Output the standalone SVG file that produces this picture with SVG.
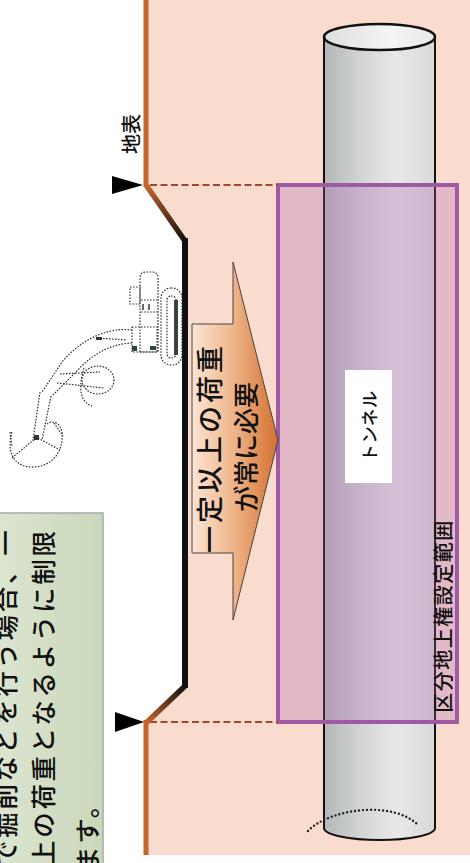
<svg xmlns="http://www.w3.org/2000/svg" width="470" height="863" viewBox="0 0 470 863">
  <style>
    .jp { font-family: "Noto Sans CJK JP", "Noto Sans", sans-serif; fill: #111; font-weight: 500; }
    .dot { fill: none; stroke: #333; stroke-width: 1.2; stroke-dasharray: 1.6 1.4; }
    .guide { fill: none; stroke: #9c4a2a; stroke-width: 2; stroke-dasharray: 7 3.5; }
  </style>
  <defs>
    <linearGradient id="tubeGrad" x1="0" y1="0" x2="1" y2="0">
      <stop offset="0" stop-color="#b4b6b8"/>
      <stop offset="0.35" stop-color="#d4d5d6"/>
      <stop offset="0.65" stop-color="#e8e8e8"/>
      <stop offset="1" stop-color="#d9d9d9"/>
    </linearGradient>
    <linearGradient id="capGrad" x1="0" y1="0" x2="1" y2="0">
      <stop offset="0" stop-color="#dedede"/>
      <stop offset="0.6" stop-color="#f4f4f4"/>
      <stop offset="1" stop-color="#e8e8e8"/>
    </linearGradient>
    <linearGradient id="arrowGrad" x1="192" y1="0" x2="278" y2="0" gradientUnits="userSpaceOnUse">
      <stop offset="0" stop-color="#fbe4d5"/>
      <stop offset="0.45" stop-color="#f0b98f"/>
      <stop offset="1" stop-color="#d5702f"/>
    </linearGradient>
    <linearGradient id="slopeTop" x1="147" y1="185" x2="185" y2="240" gradientUnits="userSpaceOnUse">
      <stop offset="0" stop-color="#c4652c"/>
      <stop offset="1" stop-color="#111"/>
    </linearGradient>
    <linearGradient id="slopeBottom" x1="185" y1="686" x2="147" y2="722" gradientUnits="userSpaceOnUse">
      <stop offset="0" stop-color="#111"/>
      <stop offset="1" stop-color="#c4652c"/>
    </linearGradient>
    <linearGradient id="noteGrad" x1="0" y1="0" x2="1" y2="0">
      <stop offset="0" stop-color="#dce5d0"/>
      <stop offset="1" stop-color="#cad8ba"/>
    </linearGradient>
  </defs>

  <!-- soil body below the ground surface -->
  <polygon id="soil" points="147,0 470,0 470,855 147,855 147,722 185,686 185,240 147,185" fill="#f9dcce"/>

  <!-- tunnel -->
  <g id="tunnel">
    <path d="M324,37 L324,828 A55.5,12 0 0 0 435,828 L435,37 Z" fill="url(#tubeGrad)" stroke="#111" stroke-width="2"/>
    <ellipse cx="379.5" cy="37" rx="55.5" ry="13" fill="url(#capGrad)" stroke="#111" stroke-width="2.5"/>
    <path d="M308,831 C330,808 395,800 419,826" fill="none" stroke="#222" stroke-width="2.4" stroke-linecap="round" stroke-dasharray="0 4"/>
  </g>

  <!-- surface-rights zone -->
  <g id="zone">
    <rect x="278" y="185" width="179" height="537" fill="#b068b5" fill-opacity="0.3" stroke="#a05aa5" stroke-width="4"/>
    <text class="jp" font-size="20" letter-spacing="1.5" text-anchor="middle" transform="translate(450.5,616) rotate(-90)">区分地上権設定範囲</text>
  </g>

  <!-- tunnel label -->
  <g id="tunnel-label">
    <rect x="345" y="370" width="47" height="113" fill="#fff"/>
    <text class="jp" font-size="17.5" letter-spacing="0.5" text-anchor="middle" transform="translate(375.5,426) rotate(-90)">トンネル</text>
  </g>

  <!-- level guides from the ground surface -->
  <g id="connectors">
    <line class="guide" x1="150" y1="185" x2="278" y2="185"/>
    <line class="guide" x1="150" y1="722" x2="278" y2="722"/>
  </g>

  <!-- ground surface profile -->
  <g id="ground" fill="none" stroke-linecap="butt" stroke-linejoin="miter">
    <line x1="146" y1="0" x2="146" y2="187" stroke="#c4652c" stroke-width="5"/>
    <line x1="146" y1="185" x2="185" y2="241" stroke="url(#slopeTop)" stroke-width="5.5"/>
    <line x1="185" y1="238" x2="185" y2="688" stroke="#111" stroke-width="6"/>
    <line x1="185" y1="686" x2="146" y2="723" stroke="url(#slopeBottom)" stroke-width="5.5"/>
    <line x1="146" y1="720" x2="146" y2="855" stroke="#c4652c" stroke-width="5"/>
    <polygon points="112,176 143,185 112,194" fill="#000"/>
    <polygon points="115,712 144,722 115,732" fill="#000"/>
    <text class="jp" font-size="20" text-anchor="middle" transform="translate(139,134) rotate(-90)">地表</text>
  </g>

  <!-- load arrow -->
  <g id="load-arrow">
    <polygon points="192,324 233,324 233,262 278,440 233,620 233,553 192,553" fill="url(#arrowGrad)" stroke="#444" stroke-width="1"/>
    <text class="jp" font-size="27" letter-spacing="3" text-anchor="middle" transform="translate(220,448) rotate(-90)">一定以上の荷重</text>
    <text class="jp" font-size="26" text-anchor="middle" transform="translate(256,447) rotate(-90)">が常に必要</text>
  </g>

  <!-- excavator sketch -->
  <g id="excavator">
    <rect class="dot" x="161" y="288" width="21" height="77" rx="10"/>
    <rect x="174" y="300" width="4" height="55" fill="#3b4a40"/>
    <rect class="dot" x="167" y="296" width="9" height="62" rx="4"/>
    <path class="dot" d="M140,352 L140,278 Q140,272 146,272 L152,272 Q158,272 158,278 L158,352 Z"/>
    <rect class="dot" x="130" y="287" width="10" height="17"/>
    <line class="dot" x1="141" y1="300" x2="157" y2="300"/>
    <line class="dot" x1="141" y1="312" x2="157" y2="312"/>
    <line x1="143" y1="304" x2="143" y2="310" stroke="#333" stroke-width="1.5"/>
    <line x1="149" y1="304" x2="149" y2="310" stroke="#333" stroke-width="1.5"/>
    <rect class="dot" x="132" y="327" width="25" height="25"/>
    <rect x="132" y="346" width="5" height="5" fill="#2f4a3a"/>
    <rect x="150" y="346" width="6" height="4" fill="#2f4a3a"/>
    <path class="dot" d="M132,330 C110,327 82,338 62,362 L42,392"/>
    <path class="dot" d="M132,343 C112,344 94,352 76,372 L52,396"/>
    <path class="dot" d="M97,338 L127,340"/>
    <rect x="96" y="337" width="6" height="3" fill="#333"/>
    <path class="dot" d="M57,383 L104,388"/>
    <path class="dot" d="M60,374 L100,372"/>
    <ellipse class="dot" cx="98" cy="380" rx="16" ry="14"/>
    <path class="dot" d="M84,368 C78,388 80,402 92,406"/>
    <path class="dot" d="M40,392 L33,440"/>
    <path class="dot" d="M51,396 L42,440"/>
    <rect x="34" y="435" width="5" height="5" fill="#333"/>
    <path class="dot" d="M12,432 C6,452 14,468 34,467 C52,466 64,452 62,432 C60,422 52,420 47,424"/>
    <path class="dot" d="M12,458 L36,438"/>
    <path class="dot" d="M10,432 L12,446"/>
    <path class="dot" d="M54,423 L63,436"/>
    <path class="dot" d="M38,438 L60,450"/>
  </g>

  <!-- explanatory note -->
  <g id="note">
    <rect x="-2" y="513" width="105" height="360" fill="url(#noteGrad)" stroke="#a8a8a8" stroke-width="1.5"/>
    <text class="jp" font-size="25.5" letter-spacing="2.7" transform="translate(15,866) rotate(-90)">で掘削などを行う場合、一</text>
    <text class="jp" font-size="25.5" letter-spacing="2.7" transform="translate(53,866) rotate(-90)">上の荷重となるように制限</text>
    <text class="jp" font-size="25.5" letter-spacing="2.7" transform="translate(97,872) rotate(-90)">ます。</text>
  </g>
</svg>
